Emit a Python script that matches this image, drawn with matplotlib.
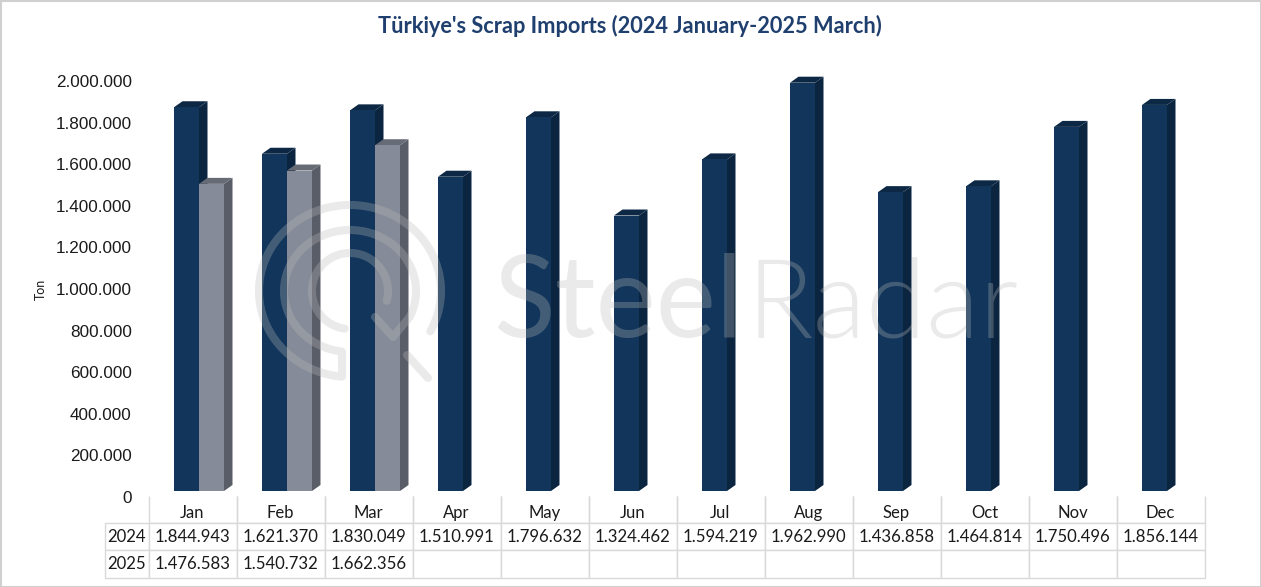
import matplotlib
matplotlib.use("Agg")
import matplotlib.pyplot as plt
import numpy as np
from matplotlib.patches import Polygon, Rectangle

months = ['Jan', 'Feb', 'Mar', 'Apr', 'May', 'Jun', 'Jul', 'Aug', 'Sep', 'Oct', 'Nov', 'Dec']
values_2024 = [1844943, 1621370, 1830049, 1510991, 1796632, 1324462,
               1594219, 1962990, 1436858, 1464814, 1750496, 1856144]
values_2025 = [1476583, 1540732, 1662356]
y_ticks = [0, 200000, 400000, 600000, 800000, 1000000, 1200000, 1400000, 1600000, 1800000, 2000000]

W, H = 1261, 587
NAVY = ('#12355b', '#0b2540', '#0d2844')
GREY = ('#858b98', '#595d68', '#666b76')


def fmt(v):
    return f'{v:,}'.replace(',', '.')


def bar3d(ax, x, v, width, dx, dy, colors):
    # front face, then the right side and the top as fake 3D
    front, side, top = colors
    ax.bar(x, v, width, bottom=dy, align='edge', color=front, zorder=3, clip_on=False)
    right = x + width
    ax.add_patch(Polygon([(right, dy), (right + dx, 2 * dy), (right + dx, v + 2 * dy), (right, v + dy)],
                         color=side, lw=0, zorder=2, clip_on=False))
    ax.add_patch(Polygon([(x, v + dy), (x + dx, v + 2 * dy), (right + dx, v + 2 * dy), (right, v + dy)],
                         color=top, lw=0, zorder=2, clip_on=False))


def arc(cx, cy, rx, ry, t0, t1):
    t = np.radians(np.linspace(t0, t1, 120))
    return np.column_stack([cx + rx * np.cos(t), cy - ry * np.sin(t)])


fig = plt.figure(figsize=(W / 100, H / 100), dpi=100, facecolor='white')
ax = fig.add_axes([148.5 / W, 1 - 497 / H, 1056 / W, 416 / H])
ax.set_xlim(0, 12)
ax.set_ylim(0, 2000000)
ax.patch.set_alpha(0)
for s in ax.spines.values():
    s.set_visible(False)
ax.set_xticks(np.arange(12) + 0.5, months, fontsize=12, family='Lato', color='#1a1a1a')
ax.set_yticks(y_ticks, [fmt(t) if t else '0' for t in y_ticks], fontsize=12.3,
              family='Liberation Sans', color='#1a1a1a')
ax.tick_params(axis='y', length=0, pad=12)
ax.tick_params(axis='x', length=0, pad=6)
ax.set_ylabel('Ton', fontsize=9, family='Lato', color='#1a1a1a')
ax.yaxis.set_label_coords((47 - 148.5) / 1056, 0.5)

# one category is 88 px wide and 2 million is 416 px tall
bar_w = 25 / 88
dx = 8.5 / 88
dy = 6 / 416 * 2000000
left = 25.5 / 88

for i, v in enumerate(values_2024):
    bar3d(ax, i + left, v, bar_w, dx, dy, NAVY)
for i, v in enumerate(values_2025):
    bar3d(ax, i + left + bar_w, v, bar_w, dx, dy, GREY)

# table under the plot, month names are the x tick labels
rows = [[''] * 13,
        ['2024'] + [fmt(v) for v in values_2024],
        ['2025'] + [fmt(v) for v in values_2025] + [''] * 9]
widths = [44 / 1100] + [88 / 1100] * 12
tb = ax.table(cellText=rows, colWidths=widths, cellLoc='center',
              bbox=[(104.5 - 148.5) / 1056, (497 - 577.5) / 416, 1100 / 1056, 81.5 / 416])
tb.auto_set_font_size(False)
for (r, c), cell in tb.get_celld().items():
    cell.set_edgecolor('#d9d9d9')
    cell.set_linewidth(1)
    cell.PAD = 0.02
    cell.get_text().set_fontsize(12.1)
    cell.get_text().set_family('Lato')
    cell.get_text().set_color('#1a1a1a')
    if r == 0:
        cell.visible_edges = 'BLR' if c > 0 else ''

# watermark and frame, in pixel coordinates
ov = fig.add_axes([0, 0, 1, 1])
ov.set_xlim(0, W)
ov.set_ylim(H, 0)
ov.axis('off')
ov.patch.set_alpha(0)
mark = dict(color='#bbbbbb', alpha=0.3)
stroke = dict(lw=5.8, solid_capstyle='round', solid_joinstyle='round', **mark)

outline = np.vstack([arc(350, 291, 91, 86, -28, 265),
                     arc(350, 291, 66, 61, 263, -25),
                     [(393, 337), (375, 317)]])
ov.plot(outline[:, 0], outline[:, 1], **stroke)
inner = arc(350, 291, 38, 38, 262, -15)
ov.plot(inner[:, 0], inner[:, 1], **stroke)
ov.plot([407, 428], [355, 378], **stroke)

ov.text(493, 337, 'Steel', fontsize=82, family='Lato', ha='left', va='baseline', **mark)
ov.text(747, 337, 'Radar', fontsize=79, family='Lato', weight=300, ha='left', va='baseline', **mark)
ov.add_patch(Rectangle((0.5, 0.5), W - 1, H - 1, fill=False, edgecolor='#d0d0d0', lw=1.5))

fig.text(629.5 / W, 1 - 26 / H, "Türkiye's Scrap Imports (2024 January-2025 March)", fontsize=15.7,
         family='Lato', weight='bold', color='#1f3f6e', ha='center', va='center')

fig.savefig('out.png', dpi=100)
